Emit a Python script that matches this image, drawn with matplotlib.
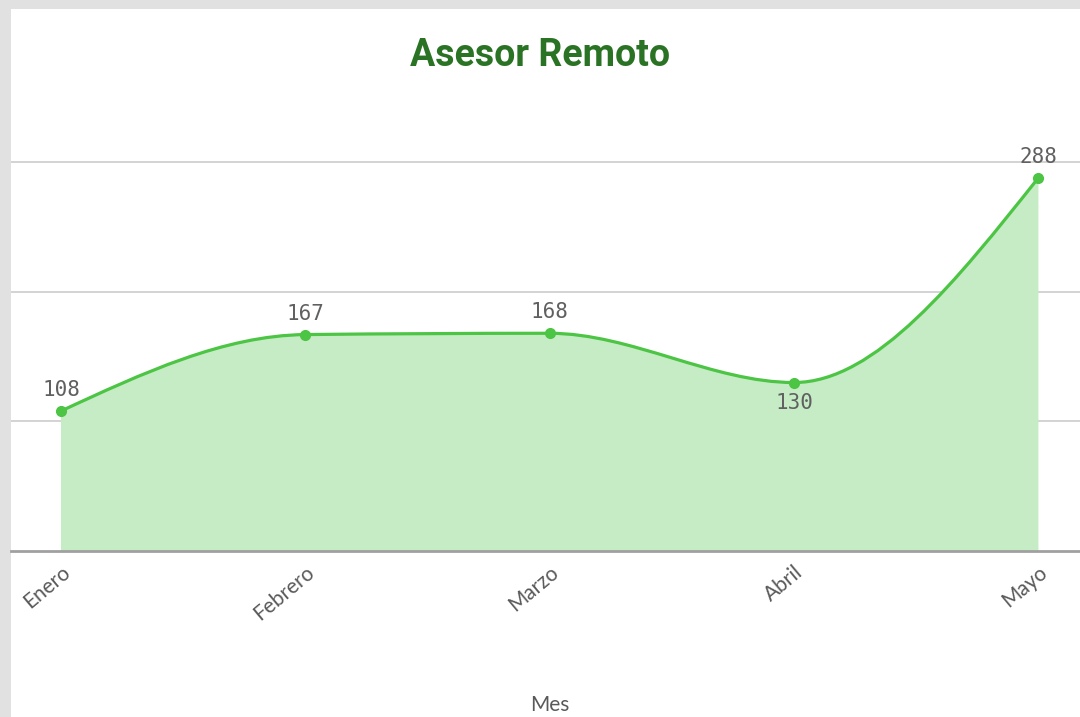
import numpy as np
import matplotlib
matplotlib.use("Agg")
import matplotlib.pyplot as plt
from matplotlib.path import Path
from matplotlib.patches import PathPatch, Rectangle

# data
meses = ["Enero", "Febrero", "Marzo", "Abril", "Mayo"]
valores = [108, 167, 168, 130, 288]
label_below = [False, False, False, True, False]

LINE = "#4cc444"
FILL = "#c6ecc6"
TITLE = "#2a7324"
TEXT = "#595959"


def monotone_tangents(x, y):
    """tangents like a monotone-x cubic curve"""
    n = len(x)
    t = np.zeros(n)
    for i in range(1, n - 1):
        h0, h1 = x[i] - x[i - 1], x[i + 1] - x[i]
        s0, s1 = (y[i] - y[i - 1]) / h0, (y[i + 1] - y[i]) / h1
        p = (s0 * h1 + s1 * h0) / (h0 + h1)
        t[i] = (np.sign(s0) + np.sign(s1)) * min(abs(s0), abs(s1), 0.5 * abs(p))
    t[0] = (3 * (y[1] - y[0]) / (x[1] - x[0]) - t[1]) / 2
    t[-1] = (3 * (y[-1] - y[-2]) / (x[-1] - x[-2]) - t[-2]) / 2
    return t


def curve_vertices(x, y):
    t = monotone_tangents(x, y)
    verts = [(x[0], y[0])]
    codes = [Path.MOVETO]
    for i in range(len(x) - 1):
        dx = (x[i + 1] - x[i]) / 3
        verts += [(x[i] + dx, y[i] + dx * t[i]),
                  (x[i + 1] - dx, y[i + 1] - dx * t[i + 1]),
                  (x[i + 1], y[i + 1])]
        codes += [Path.CURVE4] * 3
    return verts, codes


x = np.arange(len(meses), dtype=float)
y = np.array(valores, dtype=float)

fig = plt.figure(figsize=(10.8, 7.17), dpi=100, facecolor="#e1e1e1")
fig.patches.append(Rectangle((11 / 1080, 0), 1, 1 - 9 / 717, transform=fig.transFigure,
                             facecolor="white", edgecolor="none", zorder=-10))

ax = fig.add_axes([11 / 1080, 0.2315, 1 - 11 / 1080, 0.5965])
ax.set_facecolor("none")

verts, codes = curve_vertices(x, y)
# filled area under the curve
fverts = verts + [(x[-1], 0), (x[0], 0), (x[0], y[0])]
fcodes = codes + [Path.LINETO, Path.LINETO, Path.CLOSEPOLY]
ax.add_patch(PathPatch(Path(fverts, fcodes), facecolor=FILL, edgecolor="none", zorder=2))
ax.add_patch(PathPatch(Path(verts, codes), facecolor="none", edgecolor=LINE, lw=2.3,
                       capstyle="round", zorder=3))
ax.plot(x, y, "o", color=LINE, markersize=7, zorder=4)

for xi, yi, below in zip(x, y, label_below):
    ax.annotate(f"{int(yi)}", (xi, yi), xytext=(0, -15 if below else 15),
                textcoords="offset points", ha="center", va="center",
                fontsize=15, color="#606060", family="DejaVu Sans Mono", zorder=5)

ax.set_xlim(-0.2045, 4.17)
ax.set_ylim(0, 330)
ax.set_yticks([100, 200, 300])
ax.yaxis.grid(True, color="#d3d3d3", lw=1.4, zorder=1)
ax.set_axisbelow(True)
ax.tick_params(axis="y", left=False, labelleft=False)
ax.set_xticks(x)
ax.set_xticklabels(meses, rotation=40, ha="right", rotation_mode="anchor",
                   fontsize=15, color=TEXT, family="Lato")
ax.tick_params(axis="x", length=0, pad=8)
for s in ["top", "right", "left"]:
    ax.spines[s].set_visible(False)
ax.spines["bottom"].set_color("#a0a0a0")
ax.spines["bottom"].set_linewidth(2)
ax.spines["bottom"].set_zorder(6)

fig.text(540 / 1080, 1 - 55 / 717, "Asesor Remoto", ha="center", va="center",
         fontsize=27, fontweight="bold", color=TITLE, family="Roboto")
fig.text(550 / 1080, 1 - 705 / 717, "Mes", ha="center", va="center",
         fontsize=15, color=TEXT, family="Lato")

fig.savefig("out.png", dpi=100, facecolor=fig.get_facecolor())
